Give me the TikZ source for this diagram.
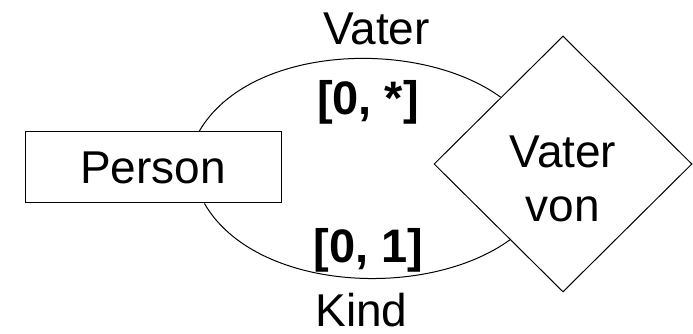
\documentclass[tikz,border=0pt]{standalone}
\usepackage{fontspec}
\setmainfont{Liberation Sans}
\usetikzlibrary{shapes.geometric}

\begin{document}
\begin{tikzpicture}[x=1pt, y=1pt,
        every node/.style={font=\fontsize{46}{54}\selectfont},
        entity/.style={draw, line width=1pt, minimum width=256pt, minimum height=71pt, inner sep=0pt},
        relation/.style={draw, diamond, aspect=1, line width=1pt, minimum width=258pt, minimum height=256pt, inner sep=0pt, text height=116pt, text depth=0pt},
        role/.style={anchor=base, inner sep=0pt},
        card/.style={anchor=base, inner sep=0pt, font=\fontsize{47}{54}\selectfont\bfseries},
        link/.style={line width=1pt, looseness=0.85}]
        \useasboundingbox (0,0) rectangle (693,334);

        \node[entity] (person) at (153,166.5) {Person}; %entity
        \node[relation] (vatervon) at (563,170) {\begin{tabular}[b]{@{}c@{}}Vater\\von\end{tabular}}; %relationship

        \draw[link] (person.38) to[out=60, in=144] (vatervon.133); %upper role
        \draw[link] (person.-35) to[out=-60, in=216] (vatervon.235); %lower role

        \node[role] (vater) at (376.5,289) {Vater};
        \node[card] (cardvater) at (368,219) {[0, *]};
        \node[card] (cardkind) at (368.5,71) {[0, 1]};
        \node[role] (kind) at (361.5,7.5) {Kind};
    \end{tikzpicture}
\end{document}
